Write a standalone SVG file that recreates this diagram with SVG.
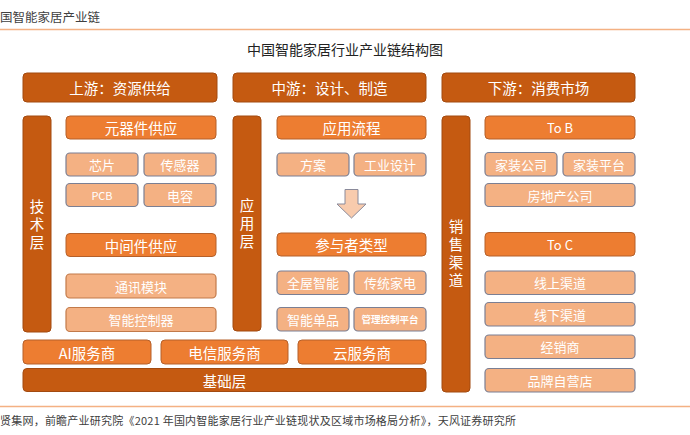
<svg xmlns="http://www.w3.org/2000/svg" width="690" height="435" viewBox="0 0 690 435">
<style>
text{font-family:"Noto Sans CJK SC","Microsoft YaHei","Liberation Sans",sans-serif;text-anchor:middle;dominant-baseline:central;fill:#fff}
.dk rect{fill:#c55a11;stroke:#a24a10;stroke-width:1}
.md rect{fill:#ed7d31;stroke:#b5602a;stroke-width:1}
.lt rect{fill:#f4b183;stroke:#7b7f93;stroke-width:1.2}
.lb rect{fill:#f4b183;stroke:#c27a4a;stroke-width:1.2}
.dk text{font-size:14.5px}
.md text{font-size:14.5px}
.lt text,.lb text{font-size:13px}
.vt text{font-size:14.5px;writing-mode:vertical-rl;letter-spacing:3.5px}
</style>
<rect x="0" y="0" width="690" height="435" fill="#fff"/>
<text x="0" y="16" style="text-anchor:start;font-size:12.5px;fill:#404040">国智能家居产业链</text>
<line x1="0" y1="29.5" x2="690" y2="29.5" stroke="#f4b183" stroke-width="1.5"/>
<text x="345" y="49" style="font-size:14px;fill:#222">中国智能家居行业产业链结构图</text>

<g id="up-header" class="dk"><rect x="23" y="73" width="194" height="29" rx="4"/><text x="120" y="87.5">上游：资源供给</text></g>
<g id="mid-header" class="dk"><rect x="233" y="73" width="193" height="29" rx="4"/><text x="329.5" y="87.5">中游：设计、制造</text></g>
<g id="down-header" class="dk"><rect x="442" y="73" width="193" height="29" rx="4"/><text x="538.5" y="87.5">下游：消费市场</text></g>

<g id="tech-layer" class="dk vt"><rect x="23" y="116" width="28" height="216" rx="4"/><text x="37" y="226.5">技术层</text></g>
<g id="components" class="md"><rect x="66" y="116" width="150" height="23" rx="4"/><text x="141" y="127.5">元器件供应</text></g>
<g id="chip" class="lt"><rect x="66" y="153" width="72" height="23" rx="4"/><text x="102" y="164.5">芯片</text></g>
<g id="sensor" class="lt"><rect x="144" y="153" width="72" height="23" rx="4"/><text x="180" y="164.5">传感器</text></g>
<g id="pcb" class="lt"><rect x="66" y="183.5" width="72" height="23" rx="4"/><text x="102" y="195" style="font-size:11px">PCB</text></g>
<g id="capacitor" class="lt"><rect x="144" y="183.5" width="72" height="23" rx="4"/><text x="180" y="195">电容</text></g>
<g id="middleware" class="md"><rect x="66" y="233.5" width="150" height="23" rx="4"/><text x="141" y="245">中间件供应</text></g>
<g id="comm-module" class="lb"><rect x="66" y="274" width="150" height="24" rx="4"/><text x="141" y="286">通讯模块</text></g>
<g id="controller" class="lb"><rect x="66" y="307.5" width="150" height="24" rx="4"/><text x="141" y="319.5">智能控制器</text></g>

<g id="ai-service" class="md"><rect x="23" y="340" width="128" height="24" rx="4"/><text x="87" y="352">AI服务商</text></g>
<g id="telecom-service" class="md"><rect x="161" y="340" width="127" height="24" rx="4"/><text x="224.5" y="352">电信服务商</text></g>
<g id="cloud-service" class="md"><rect x="298" y="340" width="128" height="24" rx="4"/><text x="362" y="352">云服务商</text></g>
<g id="infra-layer" class="dk"><rect x="23" y="368.5" width="403" height="23" rx="4"/><text x="224.5" y="380">基础层</text></g>

<g id="app-layer" class="dk vt"><rect x="233" y="116" width="28" height="215" rx="4"/><text x="247" y="225.5">应用层</text></g>
<g id="app-flow" class="md"><rect x="277" y="116" width="149" height="23" rx="4"/><text x="351.5" y="127.5">应用流程</text></g>
<g id="scheme" class="lt"><rect x="277" y="153" width="72" height="23" rx="4"/><text x="313" y="164.5">方案</text></g>
<g id="ind-design" class="lt"><rect x="354" y="153" width="72" height="23" rx="4"/><text x="390" y="164.5">工业设计</text></g>
<g id="participants" class="md"><rect x="277" y="233" width="149" height="23" rx="4"/><text x="351.5" y="244.5">参与者类型</text></g>
<g id="whole-house" class="lt"><rect x="277" y="271" width="72" height="23.5" rx="4"/><text x="313" y="282.5">全屋智能</text></g>
<g id="trad-appliance" class="lt"><rect x="354" y="271" width="72" height="23.5" rx="4"/><text x="390" y="282.5">传统家电</text></g>
<g id="single-product" class="lt"><rect x="277" y="307.5" width="72" height="23.5" rx="4"/><text x="313" y="319">智能单品</text></g>
<g id="mgmt-platform" class="lt"><rect x="354" y="307.5" width="72" height="23.5" rx="4"/><text x="390" y="319" style="font-size:9.5px;font-weight:bold">管理控制平台</text></g>

<g id="sales-channel" class="dk vt"><rect x="442" y="116" width="28" height="276" rx="4"/><text x="456" y="255.5">销售渠道</text></g>
<g id="to-b" class="md"><rect x="485" y="116" width="150" height="23" rx="4"/><text x="560" y="127.5" style="font-size:13px">To B</text></g>
<g id="deco-company" class="lt"><rect x="485" y="152.5" width="72" height="23.5" rx="4"/><text x="521" y="164">家装公司</text></g>
<g id="deco-platform" class="lt"><rect x="563" y="152.5" width="72" height="23.5" rx="4"/><text x="599" y="164">家装平台</text></g>
<g id="real-estate" class="lt"><rect x="485" y="183.5" width="150" height="23" rx="4"/><text x="560" y="195">房地产公司</text></g>
<g id="to-c" class="md"><rect x="485" y="232.5" width="150" height="23.5" rx="4"/><text x="560" y="244" style="font-size:13px">To C</text></g>
<g id="online" class="lt"><rect x="485" y="271" width="150" height="23.5" rx="4"/><text x="560" y="282.5">线上渠道</text></g>
<g id="offline" class="lt"><rect x="485" y="302.5" width="150" height="23.5" rx="4"/><text x="560" y="314">线下渠道</text></g>
<g id="dealer" class="lt"><rect x="485" y="335" width="150" height="23.5" rx="4"/><text x="560" y="346.5">经销商</text></g>
<g id="brand-store" class="lt"><rect x="485" y="368.5" width="150" height="23.5" rx="4"/><text x="560" y="380">品牌自营店</text></g>

<g id="connectors">
<polygon points="345,189.5 358,189.5 358,204 366,204 351.5,218 337,204 345,204" fill="#f8cbad" stroke="#8a8a9a" stroke-width="1"/>
</g>

<line x1="0" y1="406.5" x2="690" y2="406.5" stroke="#f4b183" stroke-width="1.5"/>
<text x="0" y="420" textLength="516" lengthAdjust="spacing" style="text-anchor:start;font-size:11px;fill:#404040">贤集网，前瞻产业研究院《2021 年国内智能家居行业产业链现状及区域市场格局分析》，天风证券研究所</text>
</svg>
